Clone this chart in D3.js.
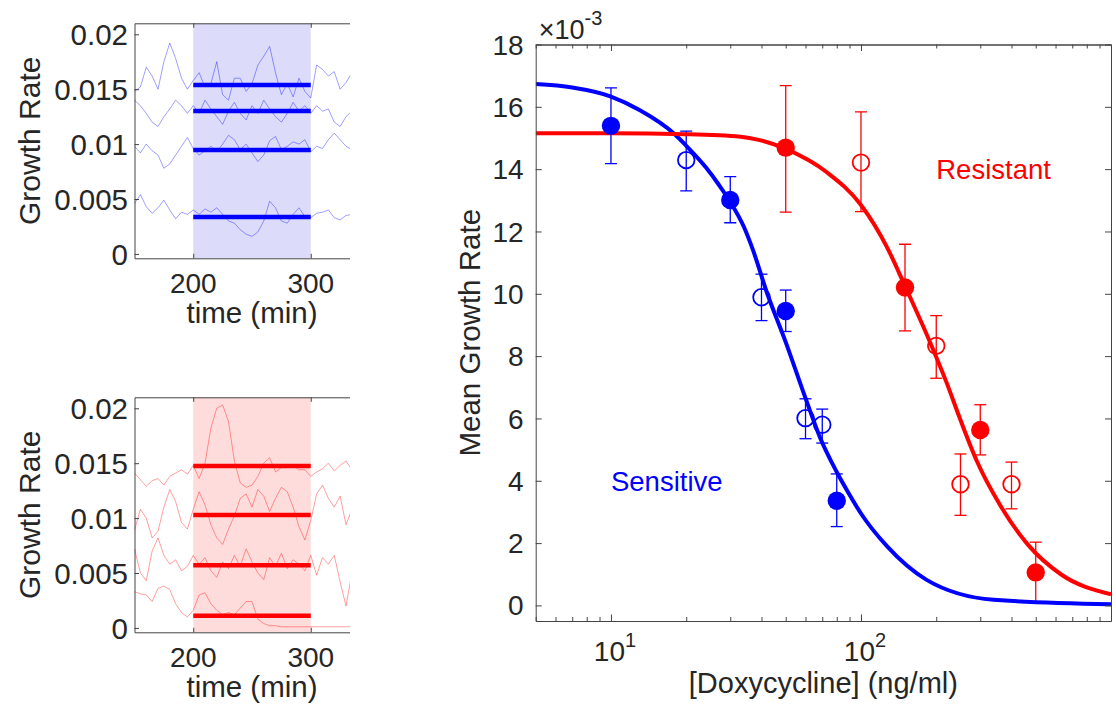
<!DOCTYPE html>
<html>
<head>
<meta charset="utf-8">
<script src="https://cdn.jsdelivr.net/npm/d3@7"></script>
<style>
  body { margin: 0; background: #fff; }
  text { font-family: "Liberation Sans", Arial, sans-serif; fill: #262626; }
</style>
</head>
<body>
<svg id="chart"></svg>
<script>
// ---- small panels: single cell growth rate traces ----
const traceTimes = [150,155,160,165,170,175,180,185,190,195,200,205,210,215,220,225,230,235,240,245,
  250,255,260,265,270,275,280,285,290,295,300,305,310,315,320,325,330,335];

const sensitiveTraces = [
  [0.0148,0.0152,0.0170,0.0162,0.0150,0.0175,0.0192,0.0178,0.0160,0.0150,
   0.0158,0.0165,0.0152,0.0155,0.0175,0.0145,0.0140,0.0160,0.0160,0.0148,
   0.0155,0.0172,0.0180,0.0189,0.0165,0.0145,0.0155,0.0143,0.0160,0.0148,
   0.0142,0.0172,0.0168,0.0162,0.0166,0.0150,0.0156,0.0165],
  [0.0140,0.0135,0.0128,0.0120,0.0116,0.0125,0.0132,0.0140,0.0135,0.0128,
   0.0135,0.0128,0.0140,0.0132,0.0125,0.0118,0.0130,0.0138,0.0128,0.0122,
   0.0135,0.0128,0.0140,0.0132,0.0125,0.0120,0.0128,0.0138,0.0130,0.0135,
   0.0128,0.0135,0.0130,0.0132,0.0120,0.0116,0.0125,0.0130],
  [0.0098,0.0092,0.0100,0.0094,0.0090,0.0078,0.0082,0.0090,0.0098,0.0106,
   0.0096,0.0090,0.0094,0.0098,0.0093,0.0100,0.0108,0.0104,0.0095,0.0100,
   0.0092,0.0084,0.0090,0.0103,0.0107,0.0095,0.0098,0.0102,0.0100,0.0104,
   0.0093,0.0098,0.0096,0.0104,0.0110,0.0104,0.0098,0.0095],
  [0.0046,0.0054,0.0043,0.0037,0.0042,0.0049,0.0040,0.0032,0.0038,0.0036,
   0.0040,0.0036,0.0041,0.0038,0.0042,0.0036,0.0030,0.0028,0.0022,0.0018,
   0.0016,0.0020,0.0030,0.0048,0.0042,0.0030,0.0028,0.0036,0.0042,0.0034,
   0.0033,0.0037,0.0038,0.0040,0.0033,0.0031,0.0035,0.0036]
];
const sensitiveMeans = [0.01538, 0.01302, 0.00947, 0.00337];

const resistantTraces = [
  [0.0141,0.0135,0.0129,0.0134,0.0136,0.0130,0.0138,0.0141,0.0144,0.0140,
   0.0148,0.0136,0.0150,0.0182,0.0200,0.0203,0.0188,0.0152,0.0132,0.0128,
   0.0130,0.0138,0.0150,0.0155,0.0142,0.0146,0.0146,0.0148,0.0144,0.0144,
   0.0138,0.0142,0.0145,0.0150,0.0143,0.0148,0.0152,0.0144],
  [0.0089,0.0108,0.0100,0.0082,0.0088,0.0110,0.0126,0.0115,0.0096,0.0090,
   0.0108,0.0124,0.0112,0.0094,0.0082,0.0076,0.0090,0.0102,0.0118,0.0122,
   0.0110,0.0126,0.0120,0.0106,0.0118,0.0128,0.0124,0.0110,0.0092,0.0080,
   0.0098,0.0122,0.0130,0.0118,0.0110,0.0120,0.0094,0.0108],
  [0.0072,0.0050,0.0043,0.0070,0.0082,0.0066,0.0058,0.0062,0.0052,0.0056,
   0.0066,0.0058,0.0064,0.0052,0.0046,0.0060,0.0054,0.0066,0.0056,0.0072,
   0.0060,0.0050,0.0044,0.0064,0.0056,0.0068,0.0054,0.0062,0.0058,0.0052,
   0.0066,0.0048,0.0064,0.0058,0.0066,0.0042,0.0020,0.0050],
  [0.0033,0.0031,0.0030,0.0024,0.0036,0.0038,0.0035,0.0022,0.0014,0.0010,
   0.0016,0.0030,0.0032,0.0022,0.0016,0.0012,0.0014,0.0012,0.0018,0.0024,
   0.0024,0.0008,0.0004,0.0002,0.0002,0.0001,0.0001,0.0001,0.0001,0.0001,
   0.0001,0.0001,0.0001,0.0001,0.0001,0.0001,0.0001,0.0001]
];
const resistantMeans = [0.01474, 0.01029, 0.00571, 0.0011];

const drugWindow = [200, 300];
const smallYTicks = [0, 0.005, 0.01, 0.015, 0.02];
const smallXTicks = [200, 300];

// ---- main panel: dose response (x 10^-3) ----
const sensitiveFilled = [
  { dose: 10, rate: 15.39, lo: 14.18, hi: 16.61 },
  { dose: 30, rate: 13.01, lo: 12.28, hi: 13.76 },
  { dose: 50, rate: 9.45, lo: 8.79, hi: 10.12 },
  { dose: 80, rate: 3.36, lo: 2.53, hi: 4.22 }
];
const sensitiveOpen = [
  { dose: 20, rate: 14.29, lo: 13.30, hi: 15.22 },
  { dose: 40, rate: 9.89, lo: 9.14, hi: 10.63 },
  { dose: 60, rate: 6.01, lo: 5.35, hi: 6.63 },
  { dose: 70, rate: 5.80, lo: 5.21, hi: 6.30 }
];
const resistantFilled = [
  { dose: 50, rate: 14.69, lo: 12.62, hi: 16.68 },
  { dose: 150, rate: 10.20, lo: 8.81, hi: 11.59 },
  { dose: 300, rate: 5.63, lo: 4.83, hi: 6.44 },
  { dose: 500, rate: 1.06, lo: 0.08, hi: 2.03 }
];
const resistantOpen = [
  { dose: 100, rate: 14.21, lo: 12.64, hi: 15.84 },
  { dose: 200, rate: 8.33, lo: 7.29, hi: 9.30 },
  { dose: 250, rate: 3.89, lo: 2.89, hi: 4.86 },
  { dose: 400, rate: 3.89, lo: 3.10, hi: 4.60 }
];

// fitted curves
const sensitiveFitDose = [5, 7, 10, 13, 18, 20, 24, 27, 30, 34, 37, 42, 50, 60, 68.5, 80, 90, 100, 127, 183, 340, 1000];
const sensitiveFitRate = [16.73, 16.62, 16.33, 15.9, 15.12, 14.75, 14.05, 13.5, 12.95, 12.15, 11.4, 10.05, 8.45, 6.65, 5.4, 4.28, 3.55, 2.95, 1.9, 0.82, 0.18, 0.04];
const resistantFitDose = [5, 10, 20, 33, 39, 50, 73, 100, 127, 150, 190, 220, 250, 290, 360, 465, 630, 1000];
const resistantFitRate = [15.15, 15.15, 15.12, 15.04, 14.94, 14.65, 13.9, 12.85, 11.5, 10.25, 8.4, 7.15, 5.95, 4.65, 3.22, 1.95, 1.0, 0.36];

const mainYTicks = [0, 2, 4, 6, 8, 10, 12, 14, 16, 18];
const mainXMajor = [10, 100, 1000];
const mainXLabels = [{ v: 10, e: "1" }, { v: 100, e: "2" }];
const mainXMinor = [5, 6, 7, 8, 9, 20, 30, 40, 50, 60, 70, 80, 90, 200, 300, 400, 500, 600, 700, 800, 900];

const width = 1116;
const height = 707;
const axisColor = "#444";

const svg = d3.select("#chart")
  .attr("width", width)
  .attr("height", height);

function styleAxis(g) {
  g.selectAll("path.domain").attr("stroke", axisColor).attr("stroke-width", 1);
  g.selectAll(".tick line").attr("stroke", axisColor);
}

// small trace panel
function drawSmallPanel(top, traces, means, color, shade, clipId) {
  const left = 134.5, right = 369.5, bottom = top + 235;
  const x = d3.scaleLinear().domain([150, 350]).range([left, right]);
  const y = d3.scaleLinear().domain([-0.0004, 0.021]).range([bottom, top]);

  svg.append("clipPath").attr("id", clipId)
    .append("rect").attr("x", 0).attr("y", top - 2).attr("width", 350).attr("height", bottom - top + 4);

  const g = svg.append("g").attr("clip-path", `url(#${clipId})`);

  g.append("rect")
    .attr("x", x(drugWindow[0]))
    .attr("y", top)
    .attr("width", x(drugWindow[1]) - x(drugWindow[0]))
    .attr("height", bottom - top)
    .attr("fill", shade);

  const line = d3.line()
    .x((d, i) => x(traceTimes[i]))
    .y(d => y(d));

  g.selectAll("path.trace")
    .data(traces)
    .enter()
    .append("path")
    .attr("class", "trace")
    .attr("d", line)
    .attr("fill", "none")
    .attr("stroke", color)
    .attr("stroke-opacity", 0.38)
    .attr("stroke-width", 1);

  g.selectAll("line.mean")
    .data(means)
    .enter()
    .append("line")
    .attr("class", "mean")
    .attr("x1", x(drugWindow[0]))
    .attr("x2", x(drugWindow[1]))
    .attr("y1", d => y(d))
    .attr("y2", d => y(d))
    .attr("stroke", color)
    .attr("stroke-width", 4.5);

  // axes
  const yAxis = g.append("g")
    .attr("transform", `translate(${left},0)`)
    .call(d3.axisLeft(y).tickValues(smallYTicks).tickSize(-4.5).tickSizeOuter(0).tickFormat(""));
  styleAxis(yAxis);

  const xAxis = g.append("g")
    .attr("transform", `translate(0,${bottom})`)
    .call(d3.axisBottom(x).tickValues(smallXTicks).tickSize(-4.5).tickSizeOuter(0).tickFormat(""));
  styleAxis(xAxis);

  const xTop = g.append("g")
    .attr("transform", `translate(0,${top})`)
    .call(d3.axisTop(x).tickValues(smallXTicks).tickSize(-4.5).tickSizeOuter(0).tickFormat(""));
  styleAxis(xTop);

  // tick labels
  svg.selectAll(null)
    .data(smallYTicks)
    .enter()
    .append("text")
    .attr("x", 128)
    .attr("y", d => y(d))
    .attr("dy", "0.36em")
    .attr("text-anchor", "end")
    .style("font-size", "29.5px")
    .text(d => String(d));

  svg.selectAll(null)
    .data(smallXTicks)
    .enter()
    .append("text")
    .attr("x", d => x(d))
    .attr("y", bottom + 35)
    .attr("text-anchor", "middle")
    .style("font-size", "28px")
    .text(d => d);

  svg.append("text")
    .attr("x", (left + right) / 2)
    .attr("y", bottom + 65)
    .attr("text-anchor", "middle")
    .style("font-size", "29.5px")
    .text("time (min)");

  svg.append("text")
    .attr("transform", `translate(39.5,${(top + bottom) / 2}) rotate(-90)`)
    .attr("text-anchor", "middle")
    .style("font-size", "30px")
    .text("Growth Rate");
}

drawSmallPanel(23.3, sensitiveTraces, sensitiveMeans, "#0000ff", "#dcdcfa", "clipTop");
drawSmallPanel(397.3, resistantTraces, resistantMeans, "#ff0000", "#ffdcdc", "clipBottom");

// ---- main dose-response panel ----
const mLeft = 535.7, mRight = 1111, mTop = 44.5, mBottom = 621;
const x = d3.scaleLog().domain([5, 1000]).range([mLeft, mRight]);
const y = d3.scaleLinear().domain([-0.5, 18]).range([mBottom, mTop]);

svg.append("clipPath").attr("id", "clipMain")
  .append("rect").attr("x", mLeft).attr("y", mTop).attr("width", mRight - mLeft).attr("height", mBottom - mTop);

const plot = svg.append("g").attr("clip-path", "url(#clipMain)");

function drawErrorbars(data, color) {
  const eb = plot.append("g").attr("stroke", color).attr("stroke-width", 1.3);
  eb.selectAll("line.v").data(data).enter().append("line")
    .attr("x1", d => x(d.dose)).attr("x2", d => x(d.dose))
    .attr("y1", d => y(d.lo)).attr("y2", d => y(d.hi));
  eb.selectAll("line.top").data(data).enter().append("line")
    .attr("x1", d => x(d.dose) - 6).attr("x2", d => x(d.dose) + 6)
    .attr("y1", d => y(d.hi)).attr("y2", d => y(d.hi));
  eb.selectAll("line.bot").data(data).enter().append("line")
    .attr("x1", d => x(d.dose) - 6).attr("x2", d => x(d.dose) + 6)
    .attr("y1", d => y(d.lo)).attr("y2", d => y(d.lo));
}

drawErrorbars(sensitiveFilled, "#0000ff");
drawErrorbars(sensitiveOpen, "#0000ff");
drawErrorbars(resistantFilled, "#ff0000");
drawErrorbars(resistantOpen, "#ff0000");

const fitLine = d3.line()
  .x(d => x(d[0]))
  .y(d => y(d[1]))
  .curve(d3.curveMonotoneX);

plot.append("path")
  .attr("d", fitLine(sensitiveFitDose.map((d, i) => [d, sensitiveFitRate[i]])))
  .attr("fill", "none").attr("stroke", "#0000ff").attr("stroke-width", 4);
plot.append("path")
  .attr("d", fitLine(resistantFitDose.map((d, i) => [d, resistantFitRate[i]])))
  .attr("fill", "none").attr("stroke", "#ff0000").attr("stroke-width", 4);

function drawMarkers(data, color, filled) {
  plot.selectAll(null)
    .data(data)
    .enter()
    .append("circle")
    .attr("cx", d => x(d.dose))
    .attr("cy", d => y(d.rate))
    .attr("r", filled ? 9.2 : 8.3)
    .attr("fill", filled ? color : "none")
    .attr("stroke", color)
    .attr("stroke-width", filled ? 0 : 1.8);
}

drawMarkers(sensitiveFilled, "#0000ff", true);
drawMarkers(sensitiveOpen, "#0000ff", false);
drawMarkers(resistantFilled, "#ff0000", true);
drawMarkers(resistantOpen, "#ff0000", false);

// annotations
svg.append("text")
  .attr("x", x(10)).attr("y", y(4)).attr("dy", "0.36em")
  .style("font-size", "27.5px").style("fill", "#0000ff")
  .text("Sensitive");
svg.append("text")
  .attr("x", x(200)).attr("y", y(14)).attr("dy", "0.36em")
  .style("font-size", "27.5px").style("fill", "#ff0000")
  .text("Resistant");

// axes with inward ticks
const axL = svg.append("g").attr("transform", `translate(${mLeft},0)`)
  .call(d3.axisLeft(y).tickValues(mainYTicks).tickSize(-6).tickSizeOuter(0).tickFormat(""));
const axR = svg.append("g").attr("transform", `translate(${mRight},0)`)
  .call(d3.axisRight(y).tickValues(mainYTicks).tickSize(-6).tickSizeOuter(0).tickFormat(""));
const axB = svg.append("g").attr("transform", `translate(0,${mBottom})`)
  .call(d3.axisBottom(x).tickValues(mainXMajor).tickSize(-6.5).tickSizeOuter(0).tickFormat(""));
const axBm = svg.append("g").attr("transform", `translate(0,${mBottom})`)
  .call(d3.axisBottom(x).tickValues(mainXMinor).tickSize(-4).tickSizeOuter(0).tickFormat(""));
const axT = svg.append("g").attr("transform", `translate(0,${mTop})`)
  .call(d3.axisTop(x).tickValues(mainXMajor).tickSize(-6.5).tickSizeOuter(0).tickFormat(""));
const axTm = svg.append("g").attr("transform", `translate(0,${mTop})`)
  .call(d3.axisTop(x).tickValues(mainXMinor).tickSize(-4).tickSizeOuter(0).tickFormat(""));
[axL, axR, axB, axBm, axT, axTm].forEach(styleAxis);

svg.selectAll(null)
  .data(mainYTicks)
  .enter()
  .append("text")
  .attr("x", mLeft - 12)
  .attr("y", d => y(d))
  .attr("dy", "0.36em")
  .attr("text-anchor", "end")
  .style("font-size", "28px")
  .text(d => d);

const xl = svg.selectAll(null)
  .data(mainXLabels)
  .enter()
  .append("text")
  .attr("x", d => x(d.v) + 4)
  .attr("y", 661)
  .attr("text-anchor", "middle")
  .style("font-size", "28px");
xl.append("tspan").text("10");
xl.append("tspan").attr("dy", -14).style("font-size", "20px").text(d => d.e);

const expo = svg.append("text").attr("x", mLeft + 3).attr("y", 39).style("font-size", "27px");
expo.append("tspan").text("\u00d710");
expo.append("tspan").attr("dy", -14).style("font-size", "20px").text("-3");

svg.append("text")
  .attr("x", (mLeft + mRight) / 2)
  .attr("y", 693)
  .attr("text-anchor", "middle")
  .style("font-size", "29px")
  .text("[Doxycycline] (ng/ml)");

svg.append("text")
  .attr("transform", `translate(480,${(mTop + mBottom) / 2}) rotate(-90)`)
  .attr("text-anchor", "middle")
  .style("font-size", "29.5px")
  .text("Mean Growth Rate");
</script>
</body>
</html>
